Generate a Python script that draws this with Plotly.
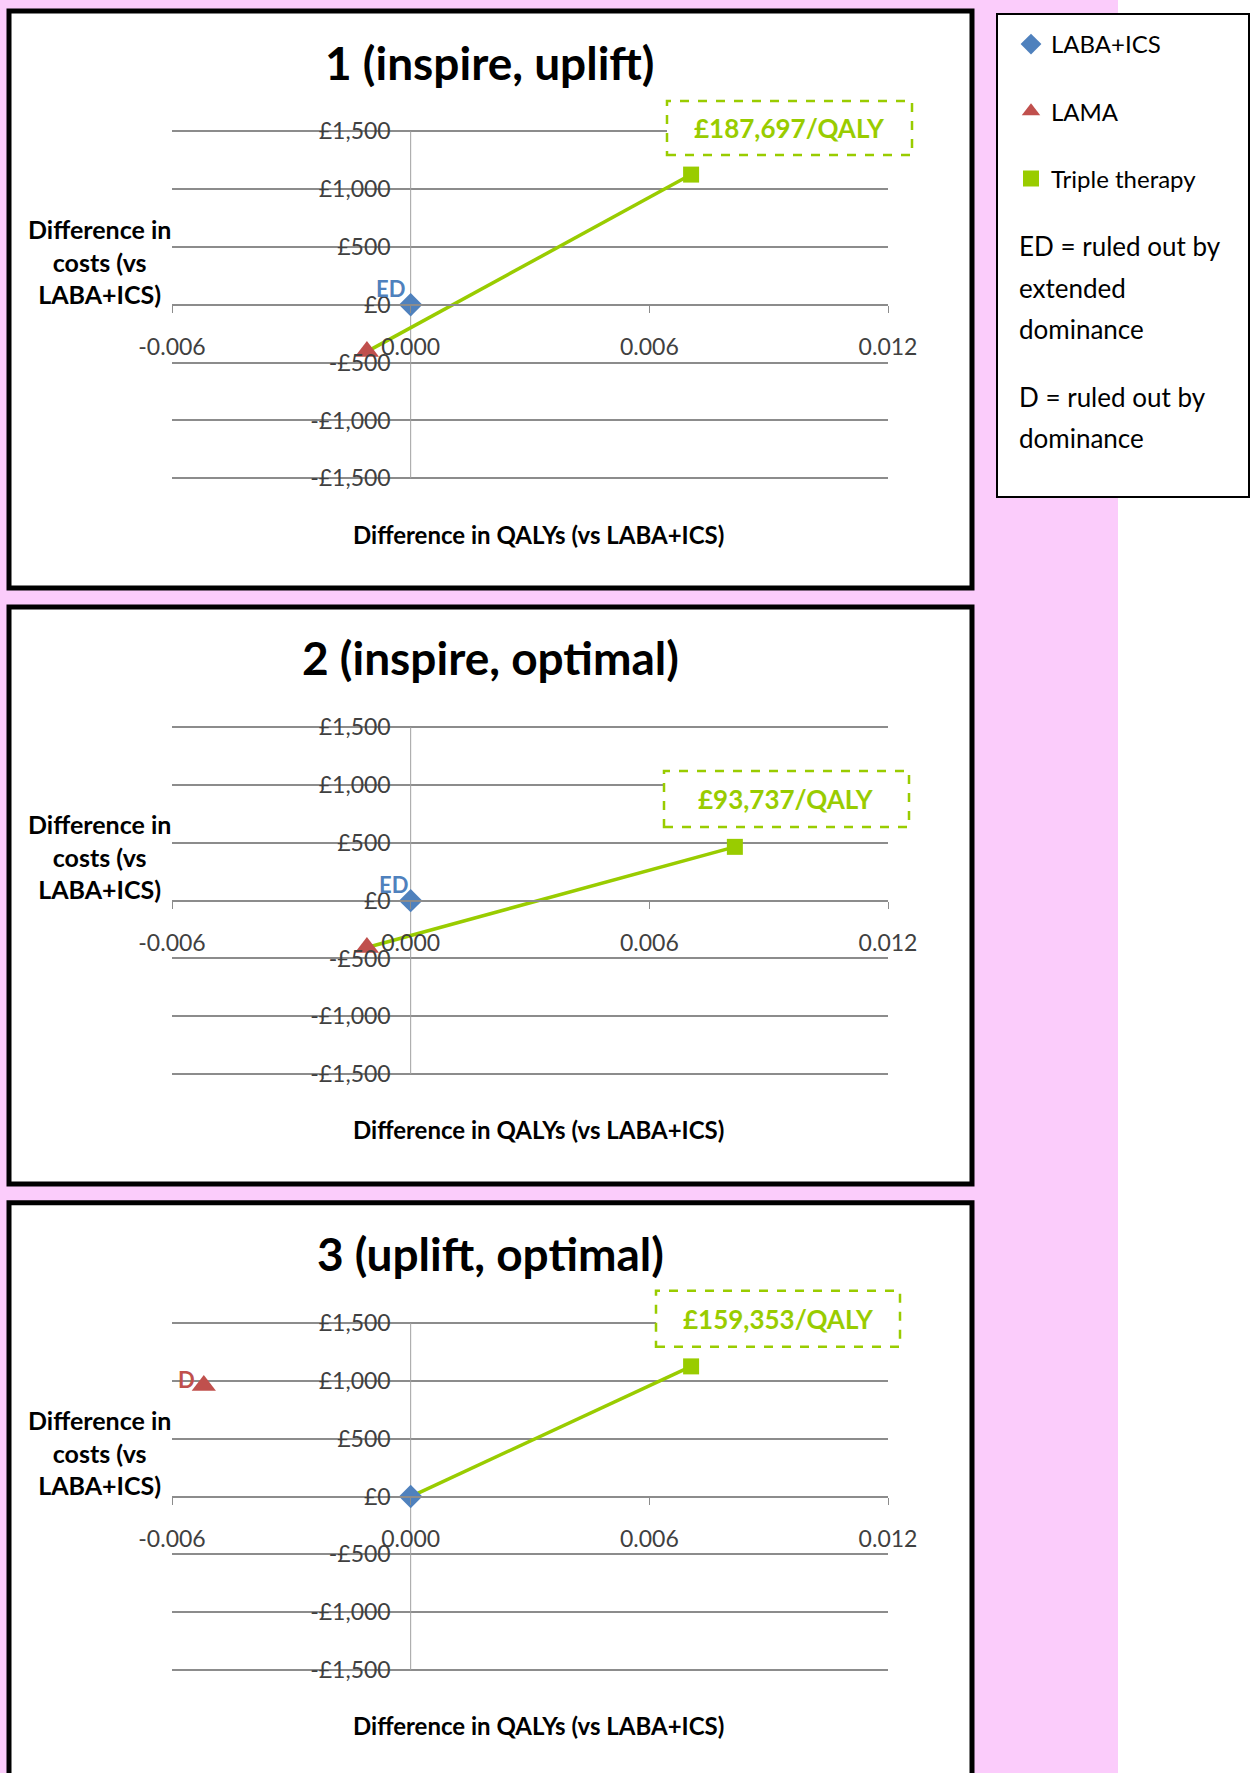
import plotly.graph_objects as go

W, H = 1254, 1773

# data
strategies = ['LABA+ICS', 'LAMA', 'Triple therapy']
titles = ['1 (inspire, uplift)', '2 (inspire, optimal)', '3 (uplift, optimal)']
qalys = [
    [0.0, -0.0011, 0.00705],
    [0.0, -0.0011, 0.00815],
    [0.0, -0.0052, 0.00705],
]
costs = [
    [0, -405, 1125],
    [0, -405, 465],
    [0, 960, 1125],
]
frontier = [[1, 2], [1, 2], [0, 2]]          # which strategies form the frontier
icer_text = ['£187,697/QALY', '£93,737/QALY', '£159,353/QALY']
excluded = [(0, 'ED'), (0, 'ED'), (1, 'D')]  # (strategy index, label)

x_ticks = [-0.006, 0.0, 0.006, 0.012]
x_ticktext = ['-0.006', '0.000', '0.006', '0.012']
y_ticks = [-1500, -1000, -500, 0, 500, 1000, 1500]
y_ticktext = ['-£1,500', '-£1,000', '-£500', '£0', '£500', '£1,000', '£1,500']

colors = ['#4F81BD', '#C0504D', '#99CC00']
symbols = ['diamond', 'triangle-up', 'square']
FONT = 'Lato'


def fx(p):
    return p / W


def fy(p):
    return 1 - p / H


# pixel layout of each panel (panel 1; others shifted down)
step = 595.9
plot_x0, plot_x1 = 172, 888
plot_top, plot_bot = 131.2, 478.3
ypad = 25  # extra range so the end gridlines are kept
ypad_px = ypad * (plot_bot - plot_top) / (y_ticks[-1] - y_ticks[0])
icer_boxes = [(667, 101, 912, 155), (664, 175, 909, 231), (656, 99, 900, 155)]
label_shift = [(-20, 16), (-17, 16), (-17, 6)]

fig = go.Figure()
layout = dict(
    width=W, height=H, autosize=False, margin=dict(l=0, r=0, t=0, b=0, pad=0),
    paper_bgcolor='white', plot_bgcolor='rgba(0,0,0,0)',
    font=dict(family=FONT, color='#000000'),
    shapes=[], annotations=[],
    legend=dict(x=fx(1011), y=fy(22), xanchor='left', yanchor='top',
                font=dict(size=24, family=FONT), bgcolor='rgba(0,0,0,0)',
                tracegroupgap=33, traceorder='grouped'),
)

# pink page and legend box
layout['shapes'].append(dict(type='rect', xref='paper', yref='paper', layer='below',
                             x0=0, x1=fx(1118), y0=0, y1=1,
                             fillcolor='#FBCCFB', line=dict(width=0)))
layout['shapes'].append(dict(type='rect', xref='paper', yref='paper', layer='below',
                             x0=fx(997), x1=fx(1249), y0=fy(497), y1=fy(14),
                             fillcolor='white', line=dict(color='black', width=2)))

for i in range(3):
    off = i * step
    n = '' if i == 0 else str(i + 1)
    xa, ya = 'x' + n, 'y' + n
    top, bot = plot_top + off, plot_bot + off
    ymid = (fy(top) + fy(bot)) / 2
    xzero = fx(plot_x0) + (fx(plot_x1) - fx(plot_x0)) * (0 - x_ticks[0]) / (x_ticks[-1] - x_ticks[0])

    # panel frame
    layout['shapes'].append(dict(type='rect', xref='paper', yref='paper', layer='below',
                                 x0=fx(9), x1=fx(972), y0=fy(min(588 + off, H + 20)), y1=fy(11 + off),
                                 fillcolor='white', line=dict(color='black', width=5)))

    layout['xaxis' + n] = dict(
        domain=[fx(plot_x0), fx(plot_x1)], range=[x_ticks[0], x_ticks[-1]],
        anchor='free', position=ymid, tickvals=x_ticks, ticktext=x_ticktext,
        showline=True, linecolor='#8C8C8C', linewidth=2, ticks='outside', ticklen=7,
        tickcolor='#8C8C8C', tickwidth=1, showgrid=False, zeroline=False, automargin=False,
        ticklabelstandoff=15, tickfont=dict(size=23, color='#404040', family=FONT),
    )
    layout['yaxis' + n] = dict(
        domain=[fy(bot + ypad_px), fy(top - ypad_px)],
        range=[y_ticks[0] - ypad, y_ticks[-1] + ypad],
        anchor='free', position=xzero, tickvals=y_ticks, ticktext=y_ticktext,
        showline=False, ticks='',
        showgrid=True, gridcolor='#8C8C8C', gridwidth=1.6, zeroline=False, automargin=False,
        ticklabelstandoff=20, tickfont=dict(size=23, color='#404040', family=FONT),
    )

    # vertical axis line at zero QALYs, from -1500 to 1500
    fig.add_trace(go.Scatter(x=[0, 0], y=[y_ticks[0], y_ticks[-1]], mode='lines',
                             line=dict(color='#A0A0A0', width=1), xaxis=xa, yaxis=ya,
                             showlegend=False, hoverinfo='skip'))

    # frontier line
    fr = frontier[i]
    fig.add_trace(go.Scatter(x=[qalys[i][k] for k in fr], y=[costs[i][k] for k in fr],
                             mode='lines', line=dict(color=colors[2], width=3.5),
                             xaxis=xa, yaxis=ya, showlegend=False, hoverinfo='skip'))
    for k in range(3):
        fig.add_trace(go.Scatter(
            x=[qalys[i][k]], y=[costs[i][k]], mode='markers', name=strategies[k],
            marker=dict(symbol=symbols[k], color=colors[k], size=[18, 21, 16][k]),
            xaxis=xa, yaxis=ya, showlegend=(i == 0), legendgroup=strategies[k],
            cliponaxis=False))

    # excluded label
    k, lab = excluded[i]
    layout['annotations'].append(dict(
        x=qalys[i][k], y=costs[i][k], xref=xa, yref=ya, text='<b>' + lab + '</b>',
        showarrow=False, xshift=label_shift[i][0], yshift=label_shift[i][1],
        xanchor='center', yanchor='middle',
        font=dict(size=22, color=colors[k], family=FONT)))

    # panel title
    layout['annotations'].append(dict(
        x=fx(490), y=fy(62 + off), xref='paper', yref='paper', text='<b>' + titles[i] + '</b>',
        showarrow=False, xanchor='center', yanchor='middle',
        font=dict(size=46, family=FONT, color='#000000')))

    # axis titles
    layout['annotations'].append(dict(
        x=fx(99), y=fy(261 + off), xref='paper', yref='paper',
        text='<b>Difference in<br>costs (vs<br>LABA+ICS)</b>',
        showarrow=False, align='center', xanchor='center', yanchor='middle',
        font=dict(size=25, family=FONT, color='#000000')))
    layout['annotations'].append(dict(
        x=fx(538), y=fy(534 + off), xref='paper', yref='paper',
        text='<b>Difference in QALYs (vs LABA+ICS)</b>',
        showarrow=False, xanchor='center', yanchor='middle',
        font=dict(size=24, family=FONT, color='#000000')))

    # ICER box
    bx0, by0, bx1, by1 = icer_boxes[i]
    layout['shapes'].append(dict(type='rect', xref='paper', yref='paper',
                                 x0=fx(bx0), x1=fx(bx1), y0=fy(by1 + off), y1=fy(by0 + off),
                                 fillcolor='white', line=dict(color=colors[2], width=2.5, dash='dash')))
    layout['annotations'].append(dict(
        x=fx((bx0 + bx1) / 2), y=fy((by0 + by1) / 2 + off), xref='paper', yref='paper',
        text='<b>' + icer_text[i] + '</b>', showarrow=False, xanchor='center', yanchor='middle',
        font=dict(size=26, family=FONT, color=colors[2])))

# legend notes
notes = [('ED = ruled out by', 246), ('extended', 288), ('dominance', 329),
         ('D = ruled out by', 397), ('dominance', 438)]
for txt, yy in notes:
    layout['annotations'].append(dict(
        x=fx(1017), y=fy(yy), xref='paper', yref='paper', xanchor='left', yanchor='middle',
        text=txt, showarrow=False, font=dict(size=26, family=FONT, color='#000000')))

fig.update_layout(**layout)
fig.write_html('out.html', config={'displayModeBar': False},
               post_script="document.body.style.margin='0px';")
